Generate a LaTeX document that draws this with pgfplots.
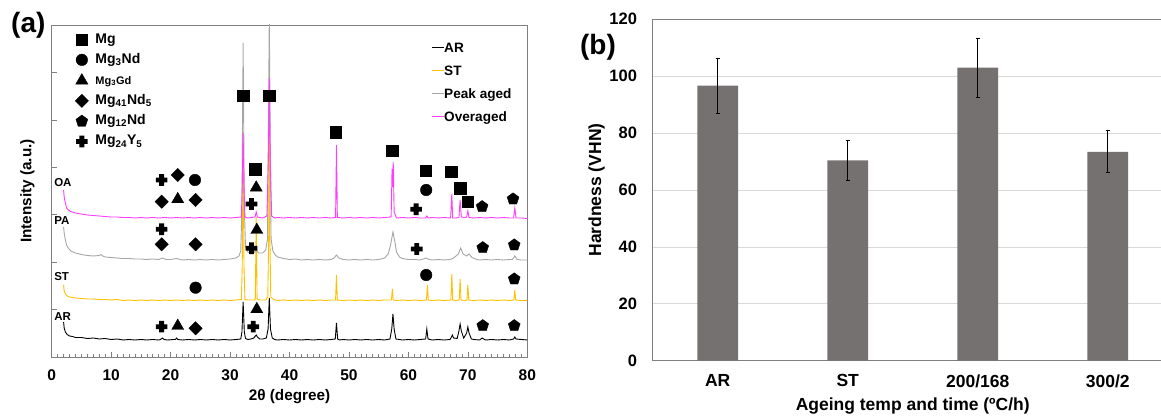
\documentclass[border=0pt]{standalone}
\usepackage{pgfplots}
\pgfplotsset{compat=1.18}
\usepackage{fontspec}
\setmainfont{Liberation Sans}
\definecolor{stcol}{HTML}{FFC000}
\definecolor{pacol}{HTML}{A6A6A6}
\definecolor{oacol}{HTML}{FF3CFF}
\definecolor{barcol}{HTML}{767171}
\definecolor{gridcol}{HTML}{D9D9D9}
\definecolor{axcol}{HTML}{808080}
\newcommand{\legline}[1]{\textcolor{#1}{\rule[4.3pt]{12pt}{1.2pt}}}
\pgfdeclareplotmark{fatplus}{%
  \pgfpathrectangle{\pgfpoint{-\pgfplotmarksize}{-0.42\pgfplotmarksize}}{\pgfpoint{2\pgfplotmarksize}{0.84\pgfplotmarksize}}%
  \pgfpathrectangle{\pgfpoint{-0.42\pgfplotmarksize}{-\pgfplotmarksize}}{\pgfpoint{0.84\pgfplotmarksize}{2\pgfplotmarksize}}%
  \pgfusepathqfill}
\begin{document}
\begin{tikzpicture}[x=1pt,y=1pt]
\useasboundingbox (0,0) rectangle (1161,415);
% ---------------- panel (a): patterns ----------------
\begin{axis}[
  at={(51.7pt,58pt)}, anchor=south west,
  scale only axis, width=475.6pt, height=332pt,
  xmin=0, xmax=80, ymin=0, ymax=332, enlargelimits=false,
  axis line style={axcol, line width=0.8pt},
  xtick={0,10,...,80}, minor x tick num=9,
  ytick={47.43,94.86,142.29,189.71,237.14,284.57}, yticklabels={},
  tick align=inside, xtick pos=left, ytick pos=left,
  major tick length=5pt, minor tick length=3pt,
  every tick/.style={axcol, line width=0.6pt},
  x tick label style={font=\bfseries\fontsize{15.5}{16}\selectfont, yshift=-9pt},
  /pgf/number format/assume math mode=true,
  xlabel={2θ (degree)}, ylabel={Intensity (a.u.)},
  label style={font=\bfseries\fontsize{15.3}{16}\selectfont},
  xlabel style={at={(axis description cs:0.5,-0.1196)}, anchor=center},
  ylabel style={at={(axis description cs:-0.0509,0.5)}, anchor=center},
  legend style={at={(0.7997,0.949)}, anchor=north west, draw=none, fill=none,
    inner sep=0pt, row sep=10pt, column sep=0pt,
    font=\bfseries\fontsize{13.6}{14}\selectfont,
    nodes={inner sep=0pt, text height=10pt, text depth=3pt}},
  legend cell align=left,
  legend image code/.code={},
]
\addplot[draw=black, line width=0.9pt] coordinates {(2,35)(2.1,29)(2.3,25)(2.6,22.5)(3,21)(3.5,20.5)(4,19.5)(5,19.5)(6,18.5)(7,19)(8,18)(9,18.5)(10,17.5)(11,18)(12,17)(13,17.5)(14,17)(15,17.5)(16,17)(17,17.5)(18,17)(18.3,17.5)(18.6,19)(18.9,17.5)(19.5,17)(20.5,17.5)(20.8,17.5)(21,19)(21.2,17.5)(22,17)(23,17.5)(24,17)(25,17.5)(26,17)(27,17.5)(28,17)(29,17.5)(30,17)(31,17.5)(31.8,18)(32.0,25)(32.2,55)(32.4,25)(32.6,18.5)(33,17.5)(33.5,18)(34.0,19)(34.2,20.5)(34.4,22)(34.6,20)(35,18)(35.5,18)(36.1,19)(36.4,28)(36.6,59)(36.8,28)(37.1,19)(37.5,17.5)(38,17)(39,17.5)(40,17)(41,17.5)(42,17)(43,17.5)(44,17)(45,17.5)(46,17)(47,17.5)(47.7,18)(47.9,34)(48.1,18)(48.4,17)(49,17.5)(50,17)(51,17.5)(52,17)(53,17.5)(54,17)(55,17.5)(56,17)(56.9,18)(57.2,28)(57.4,43)(57.6,28)(57.9,18)(58.5,17.5)(59,17)(60,17.5)(61,17)(62,17.5)(62.9,18)(63.1,28)(63.3,18)(64,17)(65,17.5)(66,17)(67,17.5)(67.2,19.5)(67.4,22)(67.6,19)(68.2,18.5)(68.5,26)(68.7,33)(68.9,26)(69.3,19)(69.8,24)(70.0,30)(70.2,24)(70.6,18)(71,17.5)(72,17)(72.4,19)(72.8,17.5)(73,17)(74,17.5)(75,17)(76,17.5)(77,17)(77.7,18)(77.9,20)(78.1,18)(79,17.5)(80,17)};
\addlegendentry{\legline{black}AR}
\addplot[draw=stcol, line width=0.9pt] coordinates {(2,72)(2.1,66)(2.3,63)(2.6,61)(3,60)(4,59)(5,58.5)(6,58)(7,58)(8,57.5)(9,57.5)(10,57)(11,57.5)(12,56.5)(13,57)(14,56.5)(15,57)(16,56.5)(17,57)(18,56.5)(19,57)(20,56.5)(21,57)(22,56.5)(23,57)(24,56.5)(25,57)(26,56.5)(27,57)(28,56.5)(29,57)(30,56.5)(31,57)(31.9,57.5)(32.05,90)(32.2,200)(32.35,90)(32.5,57.5)(33,57)(34,57)(34.25,58)(34.4,140)(34.55,58)(35,57)(36,57)(36.35,60)(36.5,120)(36.6,240)(36.7,120)(36.85,60)(37.3,57.5)(38,56.5)(39,57)(40,56.5)(41,57)(42,56.5)(43,57)(44,56.5)(45,57)(46,56.5)(47,57)(47.75,57)(47.9,82)(48.05,57)(49,56.5)(50,57)(51,56.5)(52,57)(53,56.5)(54,57)(55,56.5)(56,57)(57.15,57)(57.3,68)(57.45,57)(58,56.5)(59,57)(60,56.5)(61,57)(62,56.5)(63.05,57)(63.2,72)(63.35,57)(64,56.5)(65,57)(66,56.5)(67.15,57)(67.3,83)(67.45,57)(68,56.5)(68.55,57)(68.7,78)(68.85,57)(69.5,56.5)(69.85,57)(70.0,72)(70.15,57)(71,56.5)(72,57)(73,56.5)(74,57)(75,56.5)(76,57)(77,56.5)(77.75,57)(77.9,67)(78.05,57)(79,56.5)(80,56.5)};
\addlegendentry{\legline{stcol}ST}
\addplot[draw=pacol, line width=0.9pt] coordinates {(2,130)(2.1,124)(2.3,117)(2.5,112)(2.8,109)(3.2,106)(4,104)(5,102.5)(6,101.5)(7,101)(8,101.5)(8.3,102.5)(8.6,101)(9,100)(10,99.5)(11,99)(12,98.5)(13,98.5)(14,98)(15,98)(16,97.5)(17,98)(18,97.5)(18.6,99)(19.2,97.5)(20,97.5)(21,98.5)(22,97)(23,97.5)(24,97)(25,97.5)(26,97)(27,97.5)(28,97)(29,97.5)(30,98)(31,99)(31.5,101)(31.8,106)(32.0,150)(32.2,314)(32.4,150)(32.6,110)(33,105)(33.5,103.5)(34,104)(34.4,107)(34.8,104)(35.5,104)(36,107)(36.3,118)(36.6,340)(36.9,118)(37.2,106)(37.6,102)(38,100)(39,98.5)(40,97.5)(41,98)(42,97)(43,97.5)(44,97)(45,97.5)(46,97)(47,97.5)(47.5,99)(47.9,102)(48.3,99)(49,97.5)(50,97)(51,97.5)(52,97)(53,97.5)(54,97)(55,97.5)(56,99)(56.6,103)(57.0,112)(57.4,125)(57.7,116)(58,105)(58.5,100)(59,98.5)(60,97.5)(61,97.5)(62,97)(63,99)(63.5,97.5)(64,97)(65,97.5)(66,97)(67,97.5)(67.5,98.5)(68.4,103)(68.8,109)(69.2,103)(69.8,101)(70.2,103)(70.7,99.5)(71.5,97.5)(72,97)(73,97.5)(74,97)(75,97.5)(76,97)(77,97.5)(77.5,97.5)(77.9,101)(78.3,97.5)(79,97)(80,97)};
\addlegendentry{\legline{pacol}Peak aged}
\addplot[draw=oacol, line width=0.9pt] coordinates {(2,167)(2.1,160)(2.3,154)(2.5,149)(2.8,147)(3.2,145.5)(4,144)(5,143)(6,142)(7,141.5)(8,141)(9,140.5)(10,140)(11,140)(12,139.5)(13,139.5)(14,139)(15,139.5)(16,139)(17,139.5)(18,139)(19,139.5)(20,139)(21,139.5)(22,139)(23,139.5)(24,139)(25,139.5)(26,139)(27,139.5)(28,139)(29,139.5)(30,139)(31,139.5)(31.9,140)(32.05,170)(32.2,224)(32.35,170)(32.5,140)(33,139)(34.2,140)(34.4,145)(34.6,140)(35.5,139)(36.2,141)(36.45,200)(36.6,279)(36.75,200)(37,141)(37.5,139)(38,139.5)(39,139)(40,139.5)(41,139)(42,139.5)(43,139)(44,139.5)(45,139)(46,139.5)(47,139)(47.75,139.5)(47.9,212)(48.05,139.5)(49,139)(50,139.5)(51,139)(52,139.5)(53,139)(54,139.5)(55,139)(56,139.5)(57.1,140)(57.25,188)(57.35,170)(57.45,195)(57.6,145)(58,139)(59,139.5)(60,139)(61,139.5)(62,139)(62.9,139)(63.1,141)(63.3,139)(64,139.5)(65,139)(66,139.5)(67.1,139)(67.3,163)(67.45,139)(68,139)(68.5,139.5)(68.7,157)(68.9,140)(69.5,139.5)(69.8,140)(70.0,146)(70.2,139.5)(71,139)(72,139.5)(73,139)(74,139.5)(75,139)(76,139.5)(77,139)(77.7,139)(77.9,149)(78.1,139)(79,139)(80,138.5)};
\addlegendentry{\legline{oacol}Overaged}
\end{axis}
% ---------------- panel (a): phase markers ----------------
\begin{axis}[
  at={(51.7pt,58pt)}, anchor=south west,
  scale only axis, width=475.6pt, height=332pt,
  xmin=0, xmax=80, ymin=0, ymax=332, enlargelimits=false,
  hide axis, clip=false,
  legend style={at={(0.049,0.976)}, anchor=north west, draw=none, fill=none,
    inner sep=0pt, row sep=7.2pt, column sep=7pt,
    font=\bfseries\fontsize{14}{14}\selectfont,
    nodes={inner sep=0pt, text height=10pt, text depth=3pt}},
  legend cell align=left,
  legend image code/.code={\draw[mark repeat=2,mark phase=2,#1] plot coordinates {(0pt,0pt) (8pt,0pt) (16pt,0pt)};},
]
\addplot[only marks, mark=square*, mark size=5.7pt, black] coordinates {(32.2,261)(36.6,261)(34.2,187.7)(47.8,224.7)(57.3,206)(62.9,186.3)(67.2,185.3)(68.7,168.7)(70.0,155.3)};
\addlegendentry{Mg}
\addplot[only marks, mark=*, mark size=5.8pt, black] coordinates {(24.1,177)(63.0,167)(24.2,69.3)(63.0,82)};
\addlegendentry{Mg\textsubscript{3}Nd}
\addplot[only marks, mark=triangle*, mark size=7pt, black] coordinates {(34.4,169.3)(21.2,157.7)(34.5,127)(21.2,31)(34.5,47.7)};
\addlegendentry{{\fontsize{11}{11}\selectfont Mg\textsubscript{3}Gd}}
\addplot[only marks, mark=square*, mark size=4.7pt, mark options={rotate=45}, black] coordinates {(21.2,182)(18.5,155.3)(24.2,157)(18.5,112.7)(24.2,112.7)(24.2,28.7)};
\addlegendentry{Mg\textsubscript{41}Nd\textsubscript{5}}
\addplot[only marks, mark=pentagon*, mark size=6.2pt, black] coordinates {(72.4,150.3)(77.6,158)(72.5,109.3)(77.8,112)(77.8,78)(72.5,31.3)(77.8,31.3)};
\addlegendentry{Mg\textsubscript{12}Nd}
\addplot[only marks, mark=fatplus, mark size=5.8pt, black] coordinates {(33.6,153)(18.5,177)(61.3,147.7)(18.5,127.7)(33.6,108.7)(61.4,108)(18.5,30.3)(33.9,30.3)};
\addlegendentry{Mg\textsubscript{24}Y\textsubscript{5}}
\node[anchor=west, inner sep=0pt, font=\bfseries\fontsize{11.5}{11.5}\selectfont] at (axis cs:0.4,174) {OA};
\node[anchor=west, inner sep=0pt, font=\bfseries\fontsize{11.5}{11.5}\selectfont] at (axis cs:0.4,136) {PA};
\node[anchor=west, inner sep=0pt, font=\bfseries\fontsize{11.5}{11.5}\selectfont] at (axis cs:0.4,80) {ST};
\node[anchor=west, inner sep=0pt, font=\bfseries\fontsize{11.5}{11.5}\selectfont] at (axis cs:0.4,40) {AR};
\end{axis}
\node[font=\bfseries\fontsize{28}{28}\selectfont] at (28.3,390) {(a)};
% ---------------- panel (b): hardness ----------------
\begin{axis}[
  at={(652.7pt,54.3pt)}, anchor=south west,
  scale only axis, width=520pt, height=341.4pt,
  xmin=-0.5, xmax=3.5, ymin=0, ymax=120, enlargelimits=false,
  ybar, bar width=40.7pt,
  xtick={0,1,2,3}, xticklabels={AR,ST,200/168,300/2},
  ytick={0,20,...,120},
  major tick length=0pt,
  ymajorgrids, grid style={gridcol, line width=0.8pt},
  axis line style={axcol, line width=0.9pt},
  /pgf/number format/assume math mode=true,
  x tick label style={font=\bfseries\fontsize{17.5}{18}\selectfont, yshift=-10.5pt},
  y tick label style={font=\bfseries\fontsize{16.5}{17}\selectfont, xshift=-12.2pt},
  xlabel={Ageing temp and time (ºC/h)}, ylabel={Hardness (VHN)},
  label style={font=\bfseries\fontsize{17.5}{18}\selectfont},
  xlabel style={at={(axis description cs:0.5,-0.1327)}, anchor=center},
  ylabel style={at={(axis description cs:-0.108,0.5)}, anchor=center},
]
\addplot[fill=barcol, draw=none,
  error bars/.cd, y dir=both, y explicit,
  error bar style={black, line width=0.9pt},
  error mark options={rotate=90, black, mark size=2pt, line width=0.9pt}]
  coordinates {(0,96.7) +- (0,9.7) (1,70.4) +- (0,7.1) (2,103.0) +- (0,10.3) (3,73.4) +- (0,7.4)};
\end{axis}
\node[font=\bfseries\fontsize{28}{28}\selectfont] at (598,367.5) {(b)};
\end{tikzpicture}
\end{document}
